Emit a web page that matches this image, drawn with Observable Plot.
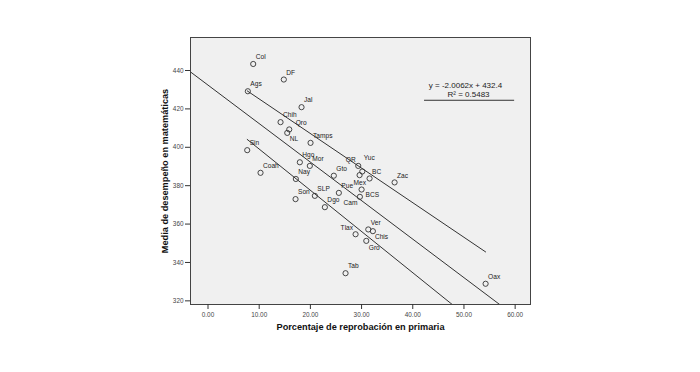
<!DOCTYPE html>
<html>
<head>
<meta charset="utf-8">
<script src="https://cdn.jsdelivr.net/npm/d3@7"></script>
<script src="https://cdn.jsdelivr.net/npm/@observablehq/plot@0.6"></script>
<style>
  html, body { margin: 0; padding: 0; background: #fff; }
  #chart { width: 700px; height: 372px; }
</style>
</head>
<body>
<div id="chart"></div>
<script>
// ---- data ----
const states = ["Col","DF","Ags","Jal","Chih","Qro","NL","Tamps","Sin","Hgo","Mor","Coah","Nay","Gto",
  "QR","Yuc","Mex","BC","Zac","BCS","Cam","Pue","SLP","Son","Dgo","Ver","Chis","Tlax","Gro","Tab","Oax"];
const pctReprobacion = [8.83,14.81,7.78,18.27,14.17,15.87,15.48,20.03,7.66,17.94,19.89,10.26,17.16,24.58,
  29.35,30.14,29.61,31.56,36.45,30.0,29.67,25.56,20.87,17.1,22.83,31.31,32.21,28.83,30.92,26.87,54.23];
const mediaMatematicas = [443.4,435.3,429.2,420.9,413.1,409.3,407.5,402.3,398.5,392.2,390.3,386.7,383.5,385.2,
  390.3,387.4,385.5,383.75,381.7,378.0,374.2,376.25,374.7,373.0,368.8,357.2,356.3,354.7,351.25,334.4,328.9];

// fit line: y = -2.0062x + 432.4, R^2 = 0.5483
const slope = -2.0062;
const intercept = 432.4;
const rSquared = 0.5483;

// the two other straight lines drawn on the chart (endpoints)
const sideLineX = [7.66, 54.23];
const upperLineY = [429.4, 345.5];
const lowerLineY = [404.1, 304.1];

const xTicks = [0, 10, 20, 30, 40, 50, 60];
const yTicks = [320, 340, 360, 380, 400, 420, 440];
const xTitle = "Porcentaje de reprobación en primaria";
const yTitle = "Media de desempeño en matemáticas";

// ---- build ----
const xDomain = [-3.42, 63.0];
const yDomain = [318.1, 457.2];

const points = states.map((s, i) => ({state: s, x: pctReprobacion[i], y: mediaMatematicas[i]}));
const fitLine = xDomain.map(x => ({x, y: slope * x + intercept}));
const upperLine = sideLineX.map((x, i) => ({x, y: upperLineY[i]}));
const lowerLine = sideLineX.map((x, i) => ({x, y: lowerLineY[i]}));

// label placement tweaks (pixel offsets), default is up-right of the point
const place = {
  Chis: {dx: 2, dy: 6, a: "start"},
  Gro: {dx: 2.5, dy: 7, a: "start"},
  Tlax: {dx: -2.5, dy: -6.5, a: "end"},
  NL: {dx: 2.5, dy: 6, a: "start"},
  QR: {dx: -2.5, dy: -6, a: "end"},
  Yuc: {dx: 1.5, dy: -14, a: "start"},
  Mex: {dx: -6, dy: 7.5, a: "start"},
  BCS: {dx: 4, dy: 5.5, a: "start"},
  Cam: {dx: -2.5, dy: 6, a: "end"},
  Qro: {dx: 6.5, dy: -7, a: "start"}
};
const defaultPlace = {dx: 2.5, dy: -7, a: "start"};
const labelGroups = {};
for (const p of points) {
  const pl = place[p.state] || defaultPlace;
  const key = `${pl.dx}|${pl.dy}|${pl.a}`;
  (labelGroups[key] = labelGroups[key] || {pl, rows: []}).rows.push(p);
}
const labelMarks = Object.values(labelGroups).map(({pl, rows}) =>
  Plot.text(rows, {x: "x", y: "y", text: "state", dx: pl.dx, dy: pl.dy, textAnchor: pl.a,
    fontSize: 6.6, fill: "#222"})
);

const eqText = `y = ${slope.toFixed(4)}x + ${intercept}`;
const r2Text = `R² = ${rSquared}`;

const chart = Plot.plot({
  width: 700,
  height: 372,
  marginLeft: 190,
  marginRight: 170,
  marginTop: 37,
  marginBottom: 68,
  style: {fontFamily: "'Liberation Sans', Arial, sans-serif", fontSize: "6.4px", color: "#333", background: "#fff"},
  x: {domain: xDomain, label: null},
  y: {domain: yDomain, label: null},
  marks: [
    Plot.frame({fill: "#f0f0f0", stroke: null}),
    Plot.line(fitLine, {x: "x", y: "y", stroke: "#333", strokeWidth: 1, clip: true}),
    Plot.line(upperLine, {x: "x", y: "y", stroke: "#333", strokeWidth: 1, clip: true}),
    Plot.line(lowerLine, {x: "x", y: "y", stroke: "#333", strokeWidth: 1, clip: true}),
    Plot.dot(points, {x: "x", y: "y", r: 2.6, stroke: "#333", strokeWidth: 0.9, fill: "none"}),
    ...labelMarks,
    Plot.text([eqText], {x: 50.3, y: 432.3, text: d => d, fontSize: 8, fill: "#222"}),
    Plot.text([r2Text], {x: 50.9, y: 427.5, text: d => d, fontSize: 8, fill: "#222"}),
    Plot.ruleY([424.5], {x1: 42.3, x2: 59.9, stroke: "#333", strokeWidth: 1}),
    Plot.frame({stroke: "#444", strokeWidth: 1}),
    Plot.axisX({ticks: xTicks, tickFormat: d3.format(".2f"), tickSize: 5, tickPadding: 3, label: null, fill: "#444"}),
    Plot.axisY({ticks: yTicks, tickFormat: d => String(d), tickSize: 5, tickPadding: 2, label: null, fill: "#444"}),
    Plot.text([xTitle], {frameAnchor: "bottom", lineAnchor: "middle", dy: 23, text: d => d, fontSize: 9.2, fontWeight: "bold", fill: "#111"}),
    Plot.text([yTitle], {frameAnchor: "left", textAnchor: "middle", lineAnchor: "middle", dx: -25, rotate: -90, text: d => d, fontSize: 9.2, fontWeight: "bold", fill: "#111"})
  ]
});
document.getElementById("chart").appendChild(chart);
</script>
</body>
</html>
